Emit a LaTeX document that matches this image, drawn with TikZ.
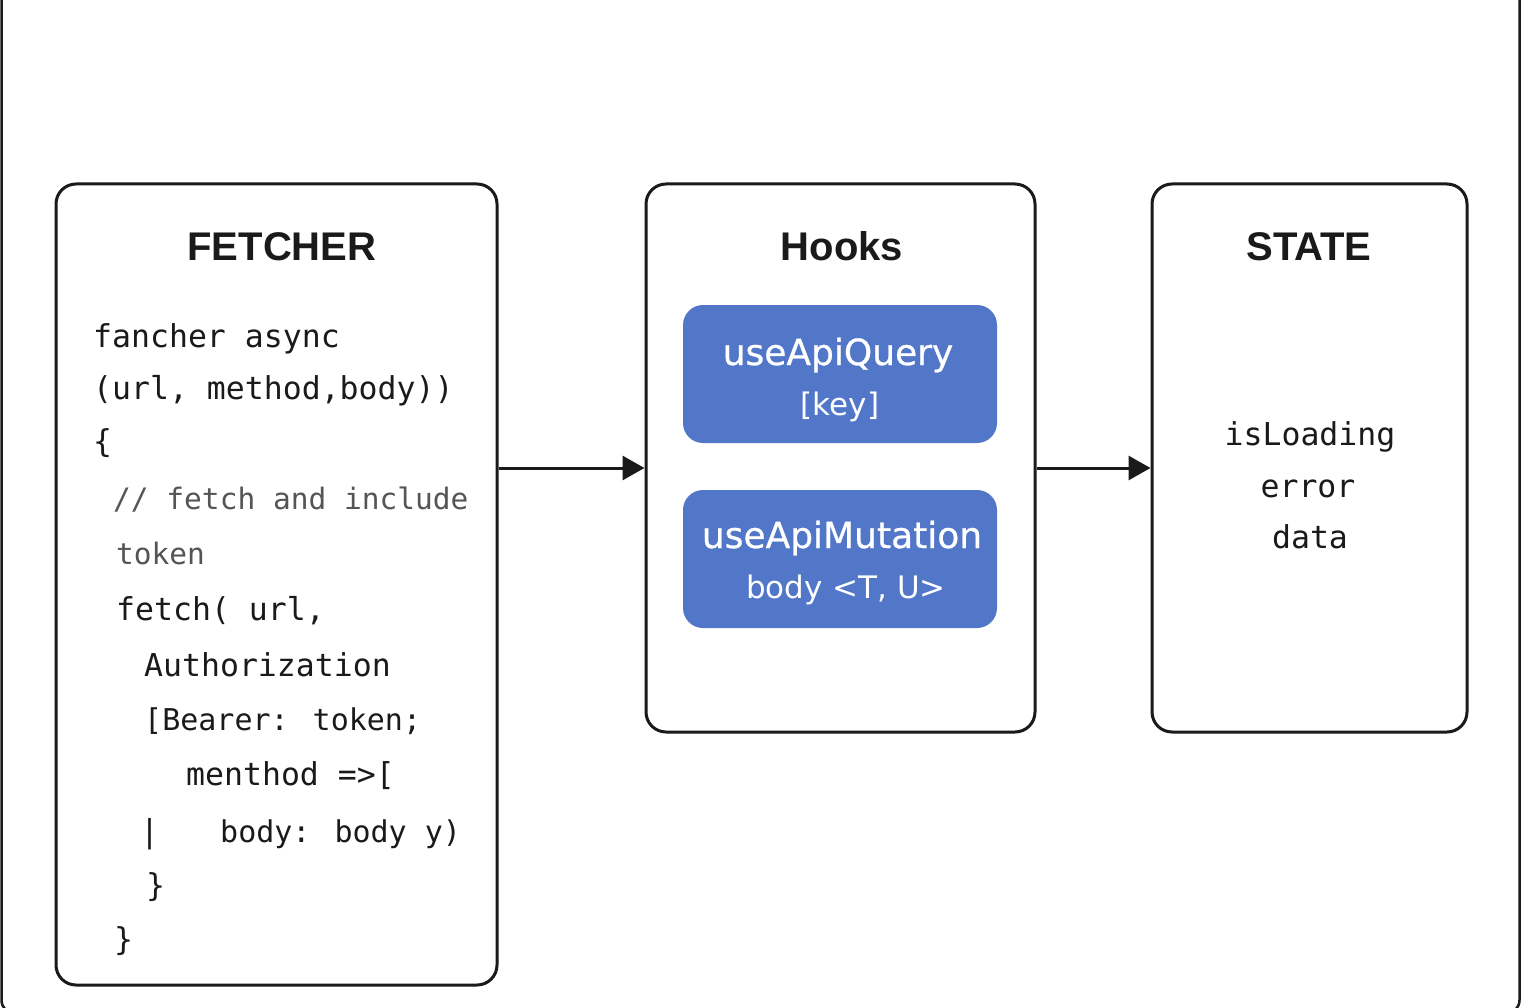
\documentclass[tikz,border=0pt]{standalone}
\usepackage{fontspec}
\usetikzlibrary{arrows.meta}
\newfontfamily\titlefont{Liberation Sans}
\newfontfamily\codefont{DejaVu Sans Mono}
\newfontfamily\labelfont{DejaVu Sans}
\newfontfamily\labelfontmed{DejaVu Sans}[FakeBold=0.7]
\definecolor{hookblue}{HTML}{5277C9}
\definecolor{ink}{HTML}{1A1A1A}
\definecolor{commentgrey}{HTML}{555555}
\tikzset{
  panel/.style={draw=ink, line width=3pt, rounded corners=20pt, fill=white, inner sep=0pt},
  hookbox/.style={fill=hookblue, draw=none, rounded corners=20pt, inner sep=0pt, minimum width=314pt, minimum height=138pt},
  title/.style={inner sep=0pt, anchor=base, text=ink, font=\titlefont\bfseries\fontsize{40}{44}\selectfont},
  code/.style={inner sep=0pt, anchor=base west, text=ink, font=\codefont\fontsize{31.5}{36}\selectfont},
  codenarrow/.style={code, font=\codefont\fontsize{30}{36}\selectfont},
  comment/.style={inner sep=0pt, anchor=base west, text=commentgrey, font=\codefont\fontsize{29.5}{34}\selectfont},
  statetext/.style={inner sep=0pt, anchor=base, text=ink, font=\codefont\fontsize{31.5}{36}\selectfont},
  hookmain/.style={inner sep=0pt, anchor=base, text=white, font=\labelfontmed\fontsize{36}{40}\selectfont},
  hooksub/.style={inner sep=0pt, anchor=base, text=white, font=\labelfont\fontsize{31}{36}\selectfont},
  flow/.style={draw=ink, line width=3pt, -{Triangle[length=22pt,width=24pt]}}
}
\begin{document}
\begin{tikzpicture}[x=1pt,y=-1pt]
\useasboundingbox (0,0) rectangle (1522,1008);
\fill[white] (0,0) rectangle (1522,1008);
% outer window frame (partly cut off)
\draw[ink, line width=2.5pt, rounded corners=14pt] (1.5,-14) rectangle (1519.5,1014);

% panels
\node[panel, minimum width=441pt, minimum height=801pt] (fetcher) at (276.5,584.5) {};
\node[panel, minimum width=389pt, minimum height=548pt] (hooks) at (840.5,458) {};
\node[panel, minimum width=315pt, minimum height=548pt] (state) at (1309.5,458) {};

% titles
\node[title] (tfetcher) at (282,260) {FETCHER};
\node[title] (thooks) at (842,260) {Hooks};
\node[title] (tstate) at (1309,260) {STATE};

% fetcher code
\node[code] (c1) at (93,347) {fancher async};
\node[code] (c2) at (93,399) {(url, method,body))};
\node[code] (c3) at (93,452) {\{};
\node[comment] (c4) at (113,509) {// fetch and include};
\node[comment] (c5) at (116,564) {token};
\node[code] (c6) at (116,620) {fetch( url,};
\node[code] (c7) at (144,676) {Authorization};
\node[codenarrow] (c8) at (144,730) {[Bearer: token;};
\node[code] (c9) at (186,785) {menthod =>[};
\node[code] (c10a) at (140,842) {|};
\node[codenarrow] (c10) at (220,842) {body: body y)};
\node[code] (c11) at (146,896) {\}};
\node[code] (c12) at (114,950) {\}};

% hooks
\node[hookbox] (query) at (840,374) {};
\node[hookbox] (mutation) at (840,559) {};
\node[hookmain] (qname) at (838,365) {useApiQuery};
\node[hooksub] (qkey) at (840,415) {[key]};
\node[hookmain] (mname) at (842,548) {useApiMutation};
\node[hooksub] (mbody) at (846,598) {body <T, U>};

% state
\node[statetext] (s1) at (1310,445) {isLoading};
\node[statetext] (s2) at (1308,497) {error};
\node[statetext] (s3) at (1310,548) {data};

% connectors
\coordinate (flowline) at (0,468);
\draw[flow] (fetcher.east |- flowline) -- (hooks.west |- flowline);
\draw[flow] (hooks.east |- flowline) -- (state.west |- flowline);
\end{tikzpicture}
\end{document}
